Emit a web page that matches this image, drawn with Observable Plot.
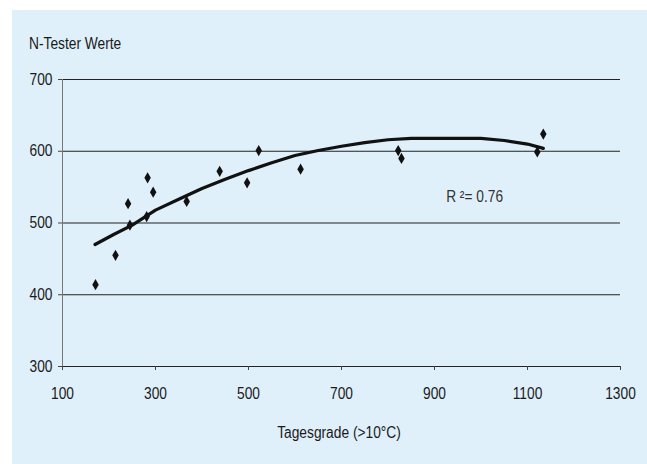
<!DOCTYPE html>
<html>
<head>
<meta charset="utf-8">
<script src="https://cdn.jsdelivr.net/npm/d3@7"></script>
<script src="https://cdn.jsdelivr.net/npm/@observablehq/plot@0.6"></script>
<style>
  html, body { margin: 0; padding: 0; background: #ffffff; }
  body { width: 647px; height: 464px; position: relative; overflow: hidden;
         font-family: "Liberation Sans", Arial, sans-serif; }
  #panel { position: absolute; left: 12px; top: 10px; width: 635px; height: 454px; background: #dff0fa; }
  #ytitle { position: absolute; left: 17px; top: 26px; font-size: 16px; line-height: 16px; color: #1a1a1a; white-space: nowrap;
            transform: scaleX(0.86); transform-origin: 0 0; }
  #xtitle { position: absolute; left: 327px; top: 415px; transform: translateX(-50%) scaleX(0.86); transform-origin: 50% 0; font-size: 16px; line-height: 16px; color: #1a1a1a; white-space: nowrap; }
  #chart { position: absolute; left: 0; top: 0; }
</style>
</head>
<body>
<div id="panel">
  <div id="chart"></div>
  <div id="ytitle">N-Tester Werte</div>
  <div id="xtitle">Tagesgrade (&gt;10°C)</div>
</div>
<script>
// Observed points (Tagesgrade, N-Tester Werte)
const degreeDays = [171, 214, 241, 245, 281, 283, 295, 367, 438, 497, 522, 612, 822, 829, 1121, 1134];
const nTester    = [414, 455, 527, 497, 509, 563, 543, 530, 572, 556, 601, 575, 601, 590, 599, 624];

// Fitted trend curve
const curveX = [170, 210, 250, 300, 350, 400, 450, 500, 550, 600, 650, 700, 750, 800, 850, 900, 950, 1000, 1050, 1100, 1134];
const curveY = [470, 484, 497, 518, 533, 548, 561, 573, 584, 594, 601, 607, 612, 616, 618, 618, 618, 618, 615, 610, 604];

const xTicks = [100, 300, 500, 700, 900, 1100, 1300];
const yTicks = [300, 400, 500, 600, 700];
const r2Label = ["R ²= 0.76"];
const r2Pos = [{x: 925, y: 537}];

const points = degreeDays.map((d, i) => ({x: d, y: nTester[i]}));
const curve = curveX.map((d, i) => ({x: d, y: curveY[i]}));

const chart = Plot.plot({
  width: 635,
  height: 454,
  marginLeft: 50,
  marginRight: 27,
  marginTop: 69,
  marginBottom: 98,
  style: {
    background: "transparent",
    fontFamily: '"Liberation Sans", Arial, sans-serif',
    fontSize: "16px",
    color: "#1a1a1a",
    overflow: "visible"
  },
  x: { domain: [100, 1300], ticks: xTicks, tickSize: 4, tickPadding: 17, label: null, tickFormat: d => String(d) },
  y: { domain: [300, 700], ticks: yTicks, tickSize: 4, tickPadding: 6, label: null, tickFormat: d => String(d) },
  marks: [
    Plot.ruleY(yTicks, {stroke: "#222", strokeWidth: 1}),
    Plot.ruleX([100], {stroke: "#777", strokeWidth: 1}),
    Plot.axisX({ticks: xTicks, tickSize: 4, tickPadding: 17, label: null, tickFormat: d => String(d), stroke: "#444"}),
    Plot.axisY({ticks: yTicks, tickSize: 4, tickPadding: 6, label: null, tickFormat: d => String(d), stroke: "#444"}),
    Plot.line(curve, {x: "x", y: "y", stroke: "#111", strokeWidth: 3.2, strokeLinejoin: "round", strokeLinecap: "round"}),
    Plot.dot(points, {x: "x", y: "y", symbol: "diamond", r: 3.4, fill: "#111", stroke: "none"}),
    Plot.text(r2Pos, {x: "x", y: "y", text: () => r2Label[0], textAnchor: "start", lineAnchor: "middle", fontSize: 16, fill: "#333"})
  ]
});
// Condensed look of the original typeface: narrow each label around its own anchor
chart.querySelectorAll("text").forEach(t => {
  const tr = t.getAttribute("transform") || "";
  t.setAttribute("transform", (tr + " scale(0.86,1)").trim());
});
document.getElementById("chart").appendChild(chart);
</script>
</body>
</html>
